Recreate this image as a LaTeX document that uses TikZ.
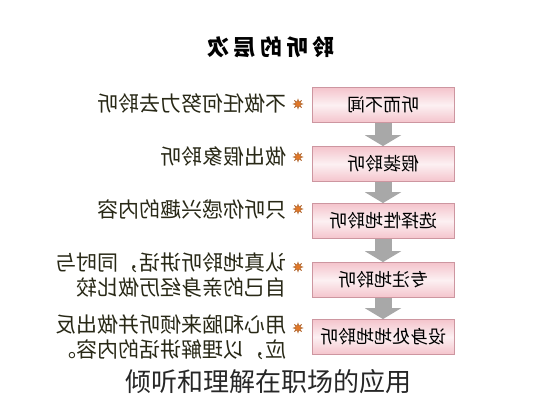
\documentclass[tikz,border=0pt]{standalone}
\usepackage{fontspec}
\usepackage{graphicx}
\usetikzlibrary{arrows.meta,shapes.geometric}
\newfontfamily\cjk{Noto Sans CJK SC}
\newfontfamily\cjkwide[LetterSpace=20]{Noto Sans CJK SC}
\newcommand{\mirror}[1]{\reflectbox{#1}}
\definecolor{boxpink}{RGB}{244,196,204}
\definecolor{boxline}{RGB}{205,150,160}
\definecolor{arrowgray}{RGB}{168,168,168}
\definecolor{textdark}{RGB}{40,40,22}
\definecolor{starorange}{RGB}{226,120,40}
\begin{document}
\begin{tikzpicture}
        [x=1pt,y=-1pt,
         title_style/.style={font=\cjkwide\bfseries\fontsize{22}{22}\selectfont,text=black},
         box_style/.style={rectangle,draw=boxline,line width=0.8pt,
           top color=boxpink,bottom color=boxpink,middle color=boxpink!25,
           minimum width=142pt,minimum height=35pt,inner sep=0pt,
           font=\cjk\fontsize{18}{18}\selectfont},
         text_style/.style={anchor=east,inner sep=0pt,text=textdark,
           font=\cjk\fontsize{21}{25}\selectfont},
         star_style/.style={star,star points=8,star point ratio=2.2,
           fill=starorange,draw=starorange!70!black,line width=0.3pt,
           minimum size=10pt,inner sep=0pt},
         arrow_style/.style={draw=arrowgray,line width=17pt,
           -{Triangle[width=36pt,length=11pt]}},
         caption_style/.style={font=\cjk\fontsize{26}{26}\selectfont,text=black!85}]
            \useasboundingbox (0,0) rectangle (533,400);
            \node[title_style] (title) at (271, 47)  {\mirror{聆听的层次}};
            % boxes
            \node[box_style] (b1) at (383, 105)  {\mirror{听而不闻}};
            \node[box_style] (b2) at (383, 164)  {\mirror{假装聆听}};
            \node[box_style] (b3) at (383, 221)  {\mirror{选择性地聆听}};
            \node[box_style] (b4) at (383, 280)  {\mirror{专注地聆听}};
            \node[box_style] (b5) at (383, 337)  {\mirror{设身处地地聆听}};
            \draw[arrow_style]  (b1) -- (b2);
            \draw[arrow_style]  (b2) -- (b3);
            \draw[arrow_style]  (b3) -- (b4);
            \draw[arrow_style]  (b4) -- (b5);
            % stars
            \node[star_style] (s1) at (298, 104)  {};
            \node[star_style] (s2) at (298, 157)  {};
            \node[star_style] (s3) at (298, 209)  {};
            \node[star_style] (s4) at (298, 267)  {};
            \node[star_style] (s5) at (298, 328)  {};
            % texts
            \node[text_style] (t1) at (287, 104)  {\mirror{不做任何努力去聆听}};
            \node[text_style] (t2) at (287, 156)  {\mirror{做出假象聆听}};
            \node[text_style] (t3) at (287, 209)  {\mirror{只听你感兴趣的内容}};
            \node[text_style] (t4) at (287, 278)  {\mirror{\begin{tabular}{@{}l@{}}认真地聆听讲话，同时与\\自己的亲身经历做比较\end{tabular}}};
            \node[text_style] (t5) at (287, 340)  {\mirror{\begin{tabular}{@{}l@{}}用心和脑来倾听并做出反\\应，以理解讲话的内容。\end{tabular}}};
            \node[caption_style] (cap) at (268, 382)  {倾听和理解在职场的应用};
        \end{tikzpicture}
\end{document}
